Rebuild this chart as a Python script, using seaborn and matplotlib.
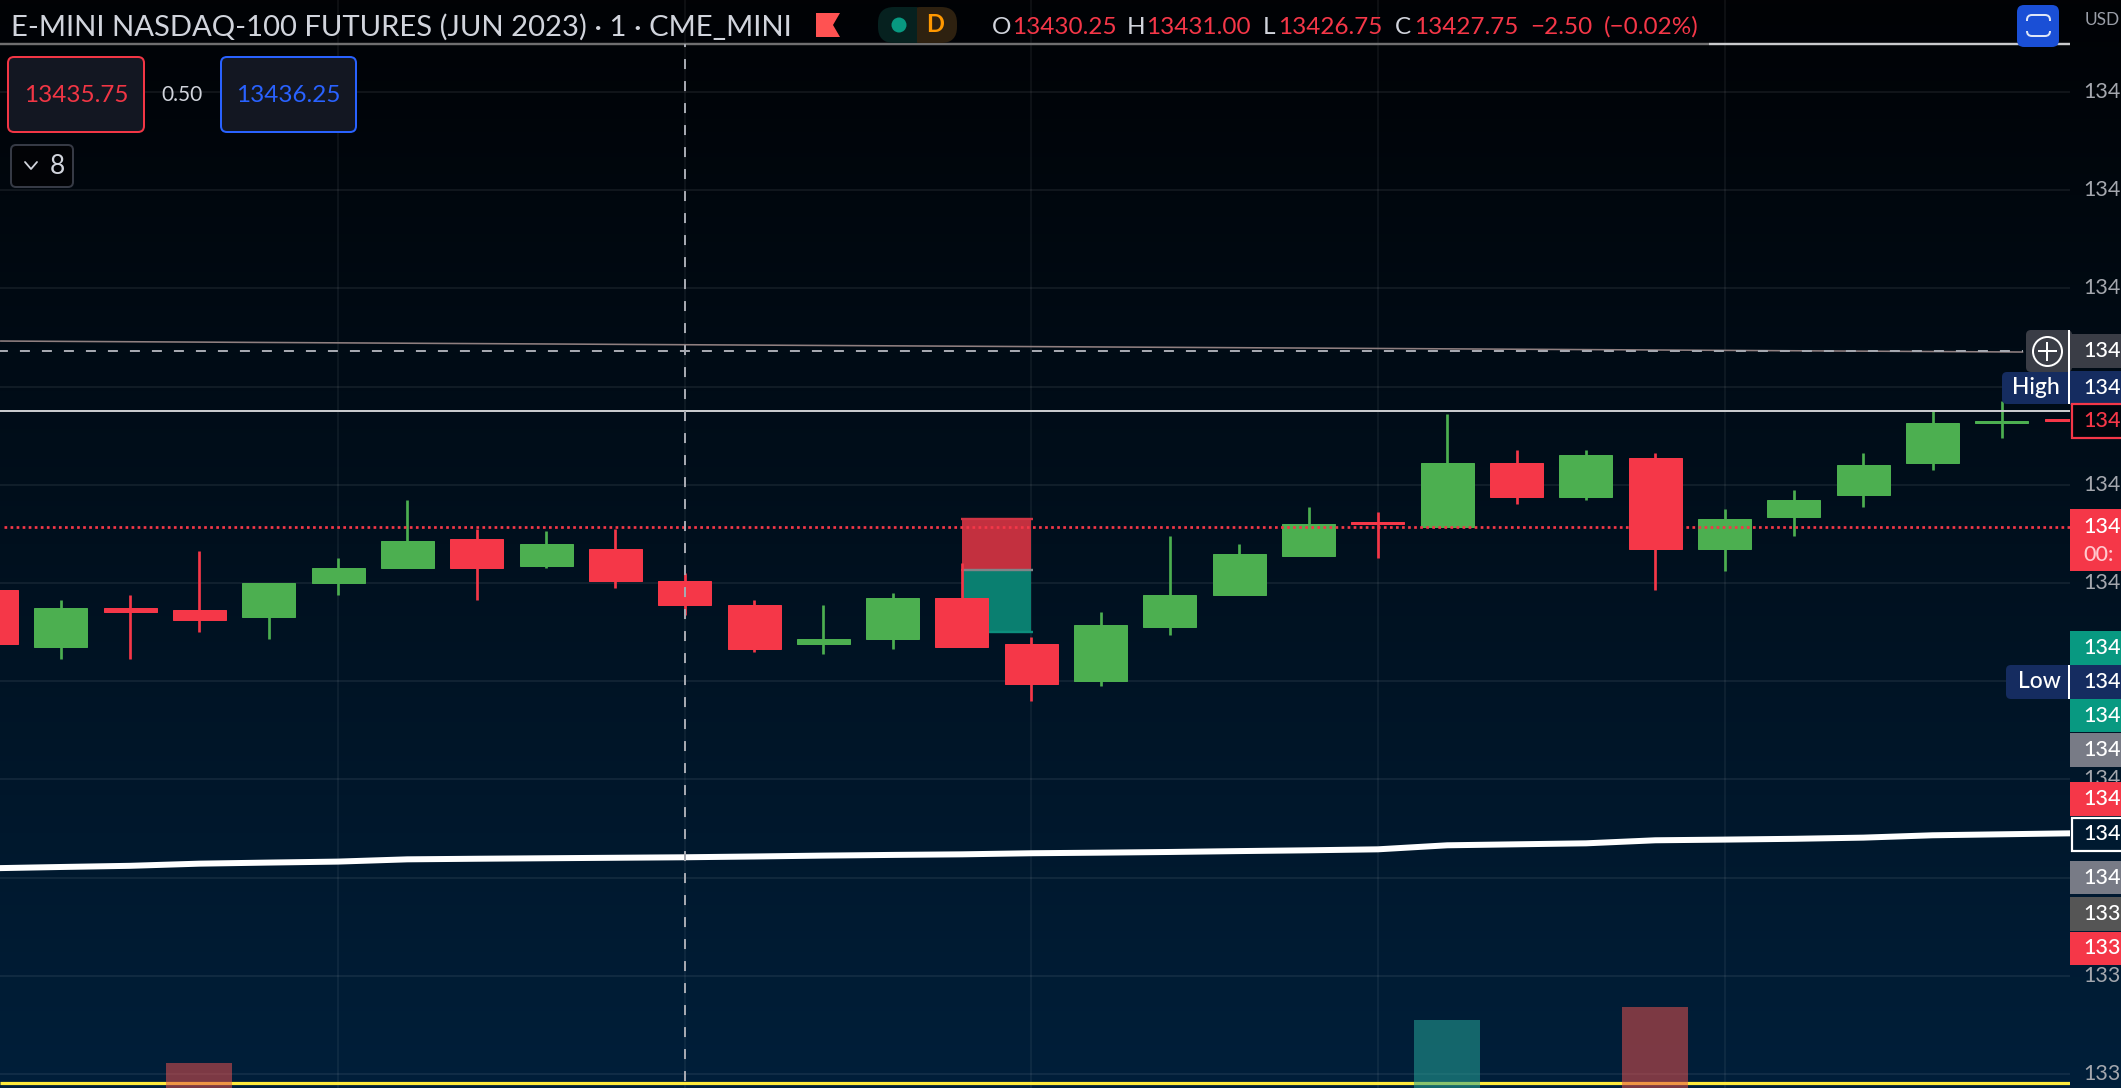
import numpy as np
import pandas as pd
import matplotlib
matplotlib.use("Agg")
import matplotlib.pyplot as plt
from matplotlib.colors import LinearSegmentedColormap
from matplotlib.patches import FancyBboxPatch, Rectangle, Circle, Polygon
import seaborn as sns

# ---------- data ----------
bar_index = list(range(-1, 30))
opens = [13429.25,13423.5,13427.5,13427.25,13426.5,13430.0,13431.5,13434.5,13431.75,13433.5,13430.25,
         13427.75,13423.75,13424.25,13428.5,13423.75,13420.0,13425.5,13428.75,13432.75,13436.25,
         13435.75,13442.25,13438.75,13442.75,13433.5,13436.75,13439.0,13442.25,13446.25,13446.75]
highs = [13429.25,13428.25,13428.75,13433.25,13430.0,13432.5,13438.5,13435.5,13435.25,13435.5,13431.0,
         13428.25,13427.75,13429.0,13432.0,13424.5,13427.0,13434.75,13434.0,13437.75,13437.25,
         13447.25,13443.5,13443.5,13443.25,13437.5,13439.5,13443.25,13447.5,13448.5,13446.75]
lows = [13423.5,13422.25,13422.25,13425.0,13424.25,13428.75,13431.5,13428.25,13431.5,13429.5,13426.75,
        13423.0,13422.75,13423.25,13423.5,13418.0,13419.5,13424.75,13428.75,13432.75,13432.5,
        13435.75,13438.0,13438.5,13429.25,13431.25,13434.75,13437.75,13441.5,13444.75,13446.5]
closes = [13423.75,13427.5,13427.0,13426.25,13430.0,13431.5,13434.25,13431.5,13434.0,13430.25,13427.75,
          13423.25,13424.25,13428.5,13423.5,13419.75,13425.75,13428.75,13433.0,13436.0,13436.0,
          13442.25,13438.75,13443.0,13433.5,13436.5,13438.5,13442.0,13446.25,13446.5,13446.5]
ma_values = [13400.95,13401.08,13401.2,13401.42,13401.53,13401.63,13401.86,13401.92,13401.97,13402.02,13402.07,
             13402.15,13402.24,13402.31,13402.37,13402.48,13402.54,13402.61,13402.7,13402.78,13402.88,
             13403.29,13403.39,13403.49,13403.8,13403.87,13403.95,13404.07,13404.31,13404.41,13404.51]
volume_index = [2, 20, 23]
volume_values = [25, 68, 81]
volume_side = ["down", "up", "down"]
grid_prices = [13480,13470,13460,13450,13440,13430,13420,13410,13400,13390,13380]
grid_labels = ["134","134","134","134","134","134","134","134","134","133","133"]
vgrid_index = [4, 9, 14, 19, 24]
tag_prices = [13453.6,13449.85,13446.5,13423.4,13419.9,13416.5,13413.0,13408.0,13404.4,13400.0,13396.3,13392.8]
tag_labels = ["134","134","134","134","134","134","134","134","134","134","133","133"]
tag_colors = ["#3a3d46","#152c60","none","#089981","#152c60","#089981","#787b86","#f53748","none","#787b86","#555555","#f53748"]
title = "E-MINI NASDAQ-100 FUTURES (JUN 2023) · 1 · CME_MINI"
ohlc_parts = [("O",992,"#d1d4dc"),("13430.25",1012,"#f53748"),("H",1127,"#d1d4dc"),("13431.00",1146,"#f53748"),
              ("L",1263,"#d1d4dc"),("13426.75",1278,"#f53748"),("C",1395,"#d1d4dc"),("13427.75",1414,"#f53748"),
              ("−2.50",1530,"#f53748"),("(−0.02%)",1604,"#f53748")]
last_price = 13435.75
resistance = 13447.55
dashed_level = 13453.6
header_level = 13484.85
yellow_level = 13379.08
sloped_x = [-0.87, 18.6, 28.3]
sloped_y = [13454.64, 13453.9, 13453.52]
box_levels = [13436.5, 13431.3, 13425.0]

# ---------- setup ----------
W, H = 2121, 1088
PX = 72 / 100
STEP = 69.33
PPP = 9.82
sns.set_theme(style="dark")
plt.rcParams["font.family"] = ["Lato", "DejaVu Sans"]
plt.rcParams["lines.scale_dashes"] = False
fig = plt.figure(figsize=(W / 100, H / 100), dpi=100, facecolor="black")

bg = fig.add_axes([0, 0, 1, 1], zorder=0)
cmap = LinearSegmentedColormap.from_list("bg", ["#010205", "#00101e", "#001f3a"])
bg.imshow(np.linspace(0, 1, 256)[:, None], aspect="auto", cmap=cmap, extent=(0, 1, 0, 1))
bg.set_axis_off()

XL = (-60.7 / STEP, (2070 - 60.7) / STEP)
YL = (13480 - (H - 92) / PPP, 13480 + 92 / PPP)
rect = [0, 0, 2070 / W, 1]
ax = fig.add_axes(rect, zorder=1)
ax.set_axis_off()

df = pd.DataFrame(dict(i=bar_index, o=opens, h=highs, l=lows, c=closes, ma=ma_values))
df["col"] = np.where(df.c >= df.o, "#4caf50", "#f53748")

grid_c = (1, 1, 1, 0.065)
ax.hlines(grid_prices, *XL, colors=[grid_c], lw=2 * PX, zorder=1)
ax.vlines(vgrid_index, *YL, colors=[grid_c], lw=1.6 * PX, zorder=1)

# position tool
ax.bar([13], [box_levels[0] - box_levels[1]], bottom=[box_levels[1]], width=1, align="edge",
       color="#c3303f", edgecolor="none", lw=0, zorder=2)
ax.bar([13], [box_levels[1] - box_levels[2]], bottom=[box_levels[2]], width=1, align="edge",
       color="#0a7f70", edgecolor="none", lw=0, zorder=2)
for lv, c in zip(box_levels, ["#cf3444", "#808488", "#0c8f7d"]):
    ax.hlines(lv, 12.98, 14.02, colors=c, lw=2.4 * PX, zorder=2.1)

sns.lineplot(x=df.i, y=df.ma, ax=ax, color="white", lw=6 * PX, errorbar=None, zorder=2.5)

# candles
ax.vlines(df.i, df.l, df.h, colors=df.col, lw=2.7 * PX, zorder=3)
ax.bar(df.i, (df.c - df.o).abs(), bottom=df[["o", "c"]].min(axis=1), width=53 / STEP,
       color=df.col, edgecolor=df.col, lw=1 * PX, zorder=3.1)

# level lines
ax.plot(sloped_x, sloped_y, color="#8f7f80", lw=1.6 * PX, zorder=3.3)
ax.plot([XL[0], 28.3], [dashed_level] * 2, color="#a5a8b0", lw=2 * PX,
        ls=(1.5, (10 * PX, 12 * PX)), zorder=3.4)
ax.hlines(resistance, *XL, colors="#c9cacd", lw=2 * PX, zorder=3.5)
ax.plot([XL[0] + 0.06, XL[1]], [last_price] * 2, color="#f53748", lw=2.7 * PX,
        ls=(0, (2.7 * PX, 3.35 * PX)), zorder=3.6)
ax.hlines(header_level, XL[0], 23.78, colors="#6f6f70", lw=2.4 * PX, zorder=3.7)
ax.hlines(header_level, 23.78, XL[1], colors="#c9cacd", lw=2.4 * PX, zorder=3.7)
ax.hlines(yellow_level, *XL, colors="#ffeb3b", lw=3.2 * PX, zorder=3.8)
ax.plot([9, 9], [YL[1] - 44 / PPP, YL[0] + 6 / PPP], color="#a5a8b0", lw=2 * PX,
        ls=(5, (10 * PX, 12 * PX)), zorder=4)
ax.set_xlim(*XL)
ax.set_ylim(*YL)
ax.set(xlabel="", ylabel="")

# volume
vax = fig.add_axes(rect, zorder=2)
vdf = pd.DataFrame(dict(i=volume_index, v=volume_values, side=volume_side))
sns.barplot(data=vdf, x="i", y="v", hue="side", palette={"down": "#e3514e", "up": "#26a397"}, native_scale=True,
            dodge=False, width=0.95 / 3, alpha=0.55, legend=False, ax=vax, linewidth=0, saturation=1)
vax.set_xlim(*XL)
vax.set_ylim(0, H)
vax.set_axis_off()

# price scale
pax = fig.add_axes([2070 / W, 0, 51 / W, 1], zorder=3)
pax.set_xlim(0, 51)
pax.set_ylim(*YL)
pax.set_axis_off()
FS = 15.5
TX = 13
for p, lab in zip(grid_prices, grid_labels):
    pax.text(TX, p, lab, color="#a4a7ae", fontsize=FS, va="center", ha="left", zorder=1)
pax.bar(25.5, 62 / PPP, bottom=last_price - 44.5 / PPP, width=51, color="#f53748", edgecolor="none", lw=0, zorder=2)
pax.text(TX, last_price, "134", color="white", fontsize=FS, va="center", zorder=3, fontweight="medium")
pax.text(TX, last_price - 28.5 / PPP, "00:", color="#ffc9ce", fontsize=FS, va="center", zorder=3, fontweight="medium")
for p, lab, c in zip(tag_prices, tag_labels, tag_colors):
    hh = 33.5 / PPP
    if c == "none":
        col = "#f53748" if p > 13440 else "white"
        pax.add_patch(Rectangle((1.5, p - hh / 2), 60, hh, fc="#00060e" if p > 13440 else "#001a30", ec=col,
                                lw=2.2 * PX, zorder=2))
        pax.text(TX, p, lab, color=col, fontsize=FS, va="center", zorder=3, fontweight="medium")
    else:
        pax.barh(p, 51, height=hh, left=0, color=c, edgecolor="none", lw=0, zorder=2)
        pax.text(TX, p, lab, color="white", fontsize=FS, va="center", zorder=3, fontweight="medium")

# interface overlay in pixel coordinates
ui = fig.add_axes([0, 0, 1, 1], zorder=5)
ui.set_xlim(0, W)
ui.set_ylim(H, 0)
ui.set_axis_off()


def round_box(x0, y0, x1, y1, fc, ec="none", lw=0, r=5, z=5):
    ui.add_patch(FancyBboxPatch((x0 + r, y0 + r), x1 - x0 - 2 * r, y1 - y0 - 2 * r,
                                boxstyle=f"round,pad={r},rounding_size={r}", fc=fc, ec=ec, lw=lw, zorder=z))


ui.text(11, 27, title, color="#d1d4dc", fontsize=21.1, va="center", ha="left")
ui.add_patch(Polygon([(816, 13), (840, 13), (833, 25), (840, 37), (816, 37)], fc="#ff5252", ec="none"))
round_box(878, 7, 925, 43, "#06211f", r=16)
round_box(905, 7, 957, 43, "#2e2110", r=16)
ui.add_patch(Rectangle((900, 7), 17, 36, fc="#06211f", ec="none", zorder=5.1))
ui.add_patch(Circle((899, 25), 7.5, fc="#089981", ec="none", zorder=5.2))
ui.text(935, 25, "D", color="#ff9800", fontsize=17, va="center", ha="center", zorder=5.2, fontweight="bold")
for s, x, c in ohlc_parts:
    ui.text(x, 27, s, color=c, fontsize=17.5, va="center", ha="left")

round_box(8, 57, 144, 132, "#131722", "#f23645", 2 * PX, r=6)
ui.text(76, 95, "13435.75", color="#f23645", fontsize=17.5, va="center", ha="center", zorder=6)
ui.text(182, 95, "0.50", color="#d1d4dc", fontsize=15, va="center", ha="center", zorder=6)
round_box(221, 57, 356, 132, "#131722", "#2962ff", 2 * PX, r=6)
ui.text(288, 95, "13436.25", color="#2962ff", fontsize=17.5, va="center", ha="center", zorder=6)
round_box(11, 145, 73, 187, "#020306", "#363a45", 2 * PX, r=5)
ui.plot([25, 31, 37], [162, 169, 162], color="#d1d4dc", lw=1.3, zorder=6)
ui.text(57, 166, "8", color="#d1d4dc", fontsize=19, va="center", ha="center", zorder=6)

round_box(2017, 5, 2059, 47, "#1a4fd6", r=7)
round_box(2027, 15, 2050, 36, "none", "#dfe6f7", 2 * PX, r=5, z=5.5)
ui.add_patch(Rectangle((2024, 20.5), 30, 10, fc="#1a4fd6", ec="none", zorder=5.6))
ui.text(2120, 20, "USD", color="#9a9ea8", fontsize=12.5, va="center", ha="right")

# plus button and extremes flags
round_box(2026, 330, 2072, 372, "#3a3d46", r=5)
ui.plot([2047], [351], marker="o", ms=29 * PX, mfc="none", mec="white", mew=2 * PX, zorder=6)
ui.plot([2047], [351], marker="+", ms=19 * PX, mec="white", mew=2 * PX, zorder=6)
round_box(2002, 372, 2072, 404, "#152c60", r=5)
ui.text(2036, 387, "High", color="white", fontsize=16.5, va="center", ha="center", zorder=6, fontweight="medium")
round_box(2006, 665, 2072, 699, "#152c60", r=5)
ui.text(2039, 682, "Low", color="white", fontsize=16.5, va="center", ha="center", zorder=6, fontweight="medium")
ui.add_patch(Rectangle((2068, 330), 2.4, 74, fc="white", ec="none", zorder=6))
ui.add_patch(Rectangle((2068, 665), 2.4, 34, fc="white", ec="none", zorder=6))

fig.savefig("out.png", dpi=100, facecolor="black")
